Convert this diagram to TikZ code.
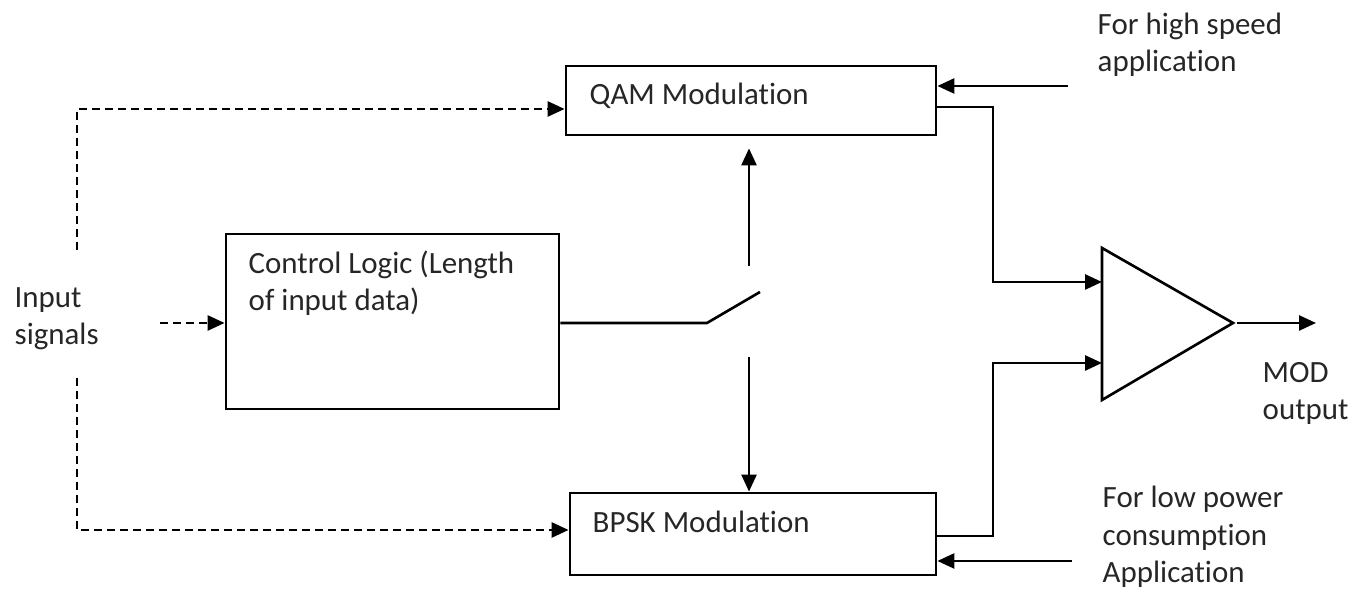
\documentclass[tikz,border=0pt]{standalone}
\usepackage{fontspec}
\setmainfont{Carlito}[Ligatures=NoCommon]
\usetikzlibrary{arrows.meta,calc}

\tikzset{
  modbox/.style={draw, line width=0.8pt, inner sep=0pt},
  lbl/.style={inner sep=0pt, align=left, font=\fontsize{8.8pt}{10.8pt}\selectfont, text=black!85},
  wire/.style={line width=0.75pt},
  arr/.style={wire, -{Triangle[length=0.17cm,width=0.15cm]}},
  dasharr/.style={arr, dash pattern=on 0.08cm off 0.05cm},
}

\begin{document}
\begin{tikzpicture}
\useasboundingbox (0,0) rectangle (13.65,5.9);

% blocks
\node[modbox, minimum width=3.7cm, minimum height=0.69cm] (qam) at (7.51,4.895) {};
\node[modbox, minimum width=3.33cm, minimum height=1.75cm] (ctrl) at (3.925,2.685) {};
\node[modbox, minimum width=3.66cm, minimum height=0.82cm] (bpsk) at (7.53,0.56) {};

\node[lbl, anchor=base west] (qamtxt) at (5.89,4.85) {QAM Modulation};
\node[lbl, anchor=base west] (bpsktxt) at (5.92,0.57) {BPSK Modulation};
\node[lbl, anchor=base west] (ctrltxt) at (2.48,2.79) {Control Logic (Length\\of input data)};

% adder
\coordinate (amptop) at (11.02,3.42);
\coordinate (ampbot) at (11.02,1.90);
\coordinate (amptip) at (12.33,2.67);
\coordinate (ampin1) at (11.02,3.08);
\coordinate (ampin2) at (11.02,2.27);
\draw[wire] (amptop) -- (amptip) -- (ampbot) -- cycle;

% switch
\coordinate (swpivot) at (7.07,2.67);
\coordinate (swtip) at (7.60,2.98);
\coordinate (swup) at (7.49,3.24);
\coordinate (swdown) at (7.49,2.33);
\draw[wire] (ctrl.east |- swpivot) -- (swpivot) -- (swtip);
\draw[arr] (swup) -- ([yshift=-0.12cm]qam.south -| swup);
\draw[arr] (swdown) -- (swdown |- bpsk.north);

% input signals
\coordinate (intop) at (0.77,3.40);
\coordinate (inbot) at (0.77,2.12);
\coordinate (inmid) at (1.60,2.67);
\draw[dasharr] (intop) |- ([yshift=-0.085cm]qam.west);
\draw[dasharr] (inbot) |- ([yshift=0.04cm]bpsk.west);
\draw[dasharr] (inmid) -- (inmid -| ctrl.west);

% outputs to adder
\coordinate (bus1) at (9.93,3.08);
\coordinate (bus2) at (9.93,2.27);
\draw[arr] ([yshift=-0.065cm]qam.east) -| (bus1) -- (ampin1);
\draw[arr] ([yshift=-0.02cm]bpsk.east) -| (bus2) -- (ampin2);

% mode inputs
\coordinate (hsin) at (10.68,5.04);
\coordinate (lpin) at (10.72,0.29);
\draw[arr] (hsin) -- (hsin -| qam.east);
\draw[arr] (lpin) -- (lpin -| bpsk.east);

\coordinate (modout) at (13.16,2.67);
\draw[arr] ([xshift=0.04cm]amptip) -- (modout);

% labels
\node[lbl, anchor=base west] (intxt) at (0.14,2.45) {Input\\signals};
\node[lbl, anchor=base west] (modtxt) at (12.62,1.70) {MOD\\output};
\node[lbl, anchor=base west] (hstxt) at (10.97,5.18) {For high speed\\application};
\node[lbl, anchor=base west] (lptxt) at (11.02,0.07) {For low power\\consumption\\Application};

\end{tikzpicture}
\end{document}
